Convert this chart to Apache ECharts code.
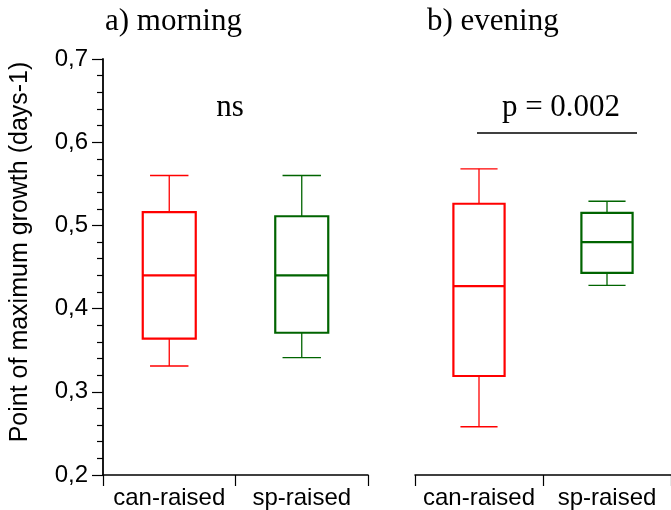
<!DOCTYPE html>
<html>
<head>
<meta charset="utf-8">
<script src="https://cdn.jsdelivr.net/npm/echarts@6/dist/echarts.min.js"></script>
<style>
html,body{margin:0;padding:0;background:#fff;}
#chart{width:671px;height:510px;}
</style>
</head>
<body>
<div id="chart"></div>
<script>
// ---- data ----
const categories = ['can-raised', 'sp-raised'];
// [min, Q1, median, Q3, max]
const morningCan = [0.331, 0.364, 0.440, 0.516, 0.560];
const morningSp  = [0.341, 0.371, 0.440, 0.511, 0.560];
const eveningCan = [0.258, 0.319, 0.427, 0.526, 0.568];
const eveningSp  = [0.428, 0.443, 0.480, 0.515, 0.529];
const yTickLabels = ['0,2', '0,3', '0,4', '0,5', '0,6', '0,7'];
const panelTitles = ['a) morning', 'b) evening'];
const annotations = ['ns', 'p = 0.002'];
const yName = 'Point of maximum growth (days-1)';

const colors = ['#ff0000', '#006400'];
const SANS = '"Liberation Sans", Arial, sans-serif';
const SERIF = '"Liberation Serif", "Times New Roman", serif';

function boxRows(a, b) {
  return [[0].concat(a), [1].concat(b)];
}

function renderBox(params, api) {
  const ci = api.value(0);
  const vals = [1, 2, 3, 4, 5].map(k => api.value(k));
  const p = vals.map(v => api.coord([ci, v]));
  const band = api.size([1, 0])[0];
  const bw = band * 0.40;
  const cw = band * 0.29;
  const cx = p[0][0];
  const col = colors[ci];
  const thin = { stroke: col, lineWidth: 1.3, fill: null };
  const thick = { stroke: col, lineWidth: 2.2, fill: null };
  return {
    type: 'group',
    children: [
      { type: 'line', shape: { x1: cx, y1: p[0][1], x2: cx, y2: p[1][1] }, style: thin },
      { type: 'line', shape: { x1: cx, y1: p[3][1], x2: cx, y2: p[4][1] }, style: thin },
      { type: 'line', shape: { x1: cx - cw / 2, y1: p[0][1], x2: cx + cw / 2, y2: p[0][1] }, style: thin },
      { type: 'line', shape: { x1: cx - cw / 2, y1: p[4][1], x2: cx + cw / 2, y2: p[4][1] }, style: thin },
      { type: 'rect', shape: { x: cx - bw / 2, y: p[3][1], width: bw, height: p[1][1] - p[3][1] }, style: thick },
      { type: 'line', shape: { x1: cx - bw / 2, y1: p[2][1], x2: cx + bw / 2, y2: p[2][1] }, style: thick }
    ]
  };
}

const xAxisCommon = {
  type: 'category',
  data: categories,
  boundaryGap: true,
  axisLine: { show: true, lineStyle: { color: '#000', width: 1.5 } },
  axisTick: { show: true, inside: false, length: 11, interval: 0, lineStyle: { color: '#000', width: 1.2 } },
  axisLabel: { color: '#000', fontFamily: SANS, fontSize: 24, margin: 11, interval: 0, hideOverlap: false },
  splitLine: { show: false }
};

const yAxisCommon = {
  type: 'value',
  min: 0.2,
  max: 0.7,
  interval: 0.1,
  splitLine: { show: false }
};

const chart = echarts.init(document.getElementById('chart'), null, { renderer: 'canvas' });
chart.setOption({
  animation: false,
  backgroundColor: '#fff',
  grid: [
    { left: 103, top: 59, width: 265, bottom: 35 },
    { left: 415, top: 59, width: 264, bottom: 35 }
  ],
  xAxis: [
    Object.assign({ gridIndex: 0 }, xAxisCommon),
    Object.assign({ gridIndex: 1 }, xAxisCommon)
  ],
  yAxis: [
    Object.assign({ gridIndex: 0 }, yAxisCommon, {
      axisLine: { show: true, lineStyle: { color: '#000', width: 1.8 } },
      axisTick: { show: true, length: 11, lineStyle: { color: '#000', width: 1.2 } },
      minorTick: { show: true, splitNumber: 5, length: 6, lineStyle: { color: '#000', width: 1.2 } },
      axisLabel: {
        color: '#000', fontFamily: SANS, fontSize: 24, margin: 15,
        formatter: function (v) { return yTickLabels[Math.round((v - 0.2) * 10)]; }
      }
    }),
    Object.assign({ gridIndex: 1, show: false }, yAxisCommon)
  ],
  series: [
    {
      type: 'custom', xAxisIndex: 0, yAxisIndex: 0, clip: false,
      renderItem: renderBox,
      encode: { x: 0, y: [1, 2, 3, 4, 5] },
      data: boxRows(morningCan, morningSp)
    },
    {
      type: 'custom', xAxisIndex: 1, yAxisIndex: 1, clip: false,
      renderItem: renderBox,
      encode: { x: 0, y: [1, 2, 3, 4, 5] },
      data: boxRows(eveningCan, eveningSp)
    }
  ],
  graphic: [
    { type: 'text', x: 105, y: 22, style: { text: panelTitles[0], font: '31px ' + SERIF, fill: '#000', align: 'left', verticalAlign: 'middle' } },
    { type: 'text', x: 427, y: 22, style: { text: panelTitles[1], font: '31px ' + SERIF, fill: '#000', align: 'left', verticalAlign: 'middle' } },
    { type: 'text', x: 230, y: 108, style: { text: annotations[0], font: '31px ' + SERIF, fill: '#000', align: 'center', verticalAlign: 'middle' } },
    { type: 'text', x: 561, y: 108, style: { text: annotations[1], font: '31px ' + SERIF, fill: '#000', align: 'center', verticalAlign: 'middle' } },
    { type: 'line', shape: { x1: 477, y1: 133, x2: 637, y2: 133 }, style: { stroke: '#000', lineWidth: 1.6 } },
    { type: 'text', x: 20, y: 252, rotation: Math.PI / 2,
      style: { text: yName, font: '25px ' + SANS, fill: '#000', align: 'center', verticalAlign: 'middle' } }
  ]
});
</script>
</body>
</html>
